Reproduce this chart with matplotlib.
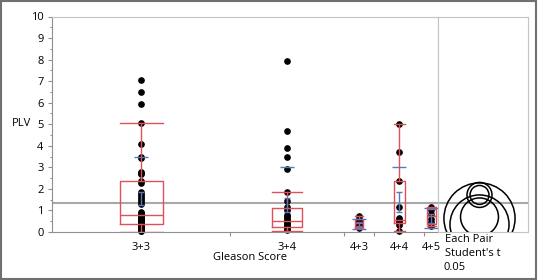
import numpy as np
import matplotlib
matplotlib.use("Agg")
import matplotlib.pyplot as plt
from matplotlib.patches import Circle, Rectangle

plt.rcParams['font.family'] = ['Open Sans', 'DejaVu Sans']
plt.rcParams['font.size'] = 8

# ---- data ----
groups = ["3+3", "3+4", "4+3", "4+4", "4+5"]

plv_33 = [7.05, 6.48, 5.95, 5.04, 4.08, 3.5, 3.45, 2.8, 2.72, 2.68, 2.37, 2.26,
          1.85, 1.78, 1.68, 1.6, 1.48, 1.4, 1.32, 0.92, 0.88, 0.84, 0.8, 0.75,
          0.7, 0.66, 0.62, 0.58, 0.55, 0.5, 0.45, 0.4, 0.38, 0.34, 0.3, 0.25,
          0.2, 0.15, 0.1, 0.06, 0.03]
plv_34 = [7.93, 4.69, 3.9, 3.5, 2.91, 1.87, 1.45, 1.17, 1.02, 0.8, 0.72, 0.65,
          0.58, 0.5, 0.42, 0.35, 0.3, 0.22, 0.15, 0.08]
plv_43 = [0.74, 0.62, 0.52, 0.42, 0.33, 0.25, 0.18]
plv_44 = [5.0, 3.7, 2.37, 1.17, 0.65, 0.58, 0.5, 0.42, 0.32, 0.06]
plv_45 = [1.15, 1.0, 0.82, 0.62, 0.45, 0.3]
points = [plv_33, plv_34, plv_43, plv_44, plv_45]

# quantile box stats
q1      = [0.36, 0.22, 0.22, 0.40, 0.35]
median  = [0.80, 0.53, 0.42, 0.56, 0.72]
q3      = [2.38, 1.10, 0.62, 2.37, 1.05]
whis_lo = [0.02, 0.06, 0.18, 0.06, 0.30]
whis_hi = [5.04, 1.87, 0.74, 5.00, 1.15]

# means, std errors, std devs
means = [1.56, 1.25, 0.37, 1.40, 0.64]
sems  = [0.31, 0.31, 0.09, 0.47, 0.20]
sds   = [1.91, 1.78, 0.22, 1.60, 0.47]

grand_mean = 1.33

# comparison circles: centre and radius (PLV units)
circle_mean   = [1.72, 1.72, 0.63, 0.35, 0.70]
circle_radius = [0.44, 0.58, 1.65, 1.37, 0.88]

# ---- layout (pixel-ish units along x) ----
W, H = 538, 280
group_span = [178, 114, 30, 50, 14]
box_w = [43, 30, 8, 11, 9]
edges = np.concatenate([[0], np.cumsum(group_span)])
centers = (edges[:-1] + edges[1:]) / 2

red = '#e0505a'
blue = '#5a78b8'
grid_gray = '#a8a8a8'
frame_gray = '#c4c4c4'

fig = plt.figure(figsize=(W / 100, H / 100), dpi=100)
ax = fig.add_axes([52 / W, 48 / H, 386 / W, 215.5 / H])
axc = fig.add_axes([438 / W, 48 / H, 90 / W, 215.5 / H])

# points
for c, vals in zip(centers, points):
    ax.plot(np.full(len(vals), c), vals, 'o', color='black', ms=3.8,
            mec='black', zorder=2, clip_on=False)

# boxes
stats = []
for i in range(len(groups)):
    stats.append(dict(med=median[i], q1=q1[i], q3=q3[i],
                      whislo=whis_lo[i], whishi=whis_hi[i], fliers=[]))
lp = dict(color=red, lw=1.0)
ax.bxp(stats, positions=centers, widths=box_w, capwidths=box_w,
       showfliers=False, boxprops=lp, whiskerprops=lp, capprops=lp,
       medianprops=lp, manage_ticks=False, zorder=3)

# std dev lines and mean error bars
for c, m, se, sd in zip(centers, means, sems, sds):
    ax.hlines([m + sd, m - sd], c - 7, c + 7, color=blue, lw=1.0, zorder=4)
    ax.errorbar(c, m, yerr=se, color=blue, lw=1.0, capsize=2.5, zorder=4)

ax.axhline(grand_mean, color=grid_gray, lw=1.5, zorder=1)

ax.set_xlim(0, edges[-1])
ax.set_ylim(0, 10)
ax.set_yticks(np.arange(0, 11, 1))
ax.set_yticks(np.arange(0.5, 10, 1), minor=True)
ax.set_xticks(edges[1:-1])
ax.set_xticklabels([])
ax.set_xticks(centers, minor=True)
ax.set_xticklabels(groups, minor=True)
ax.tick_params(axis='y', which='major', length=3, width=0.8, color='#909090', pad=3)
ax.tick_params(axis='y', which='minor', length=1.8, width=0.8, color='#909090')
ax.tick_params(axis='x', which='major', length=3, width=0.8, color='#909090')
ax.tick_params(axis='x', which='minor', length=0, pad=7)
for s in ax.spines.values():
    s.set_color(frame_gray)
ax.spines['left'].set_color('#909090')
ax.spines['bottom'].set_color('#909090')

# comparison circles panel
px_per_unit = 215.5 / 10
cw = 90 / px_per_unit
axc.set_xlim(0, cw)
axc.set_ylim(0, 10)
axc.axhline(grand_mean, color=grid_gray, lw=1.5, zorder=1)
xc = (479.5 - 438) / px_per_unit
for m, r in zip(circle_mean, circle_radius):
    axc.add_patch(Circle((xc, m), r, fill=False, ec='black', lw=1.1, zorder=3))
axc.set_xticks([])
axc.set_yticks([])
for s in axc.spines.values():
    s.set_color(frame_gray)

# labels
fig.text(12 / W, 1 - 124 / H, 'PLV', va='center', ha='left')
fig.text(213 / W, 1 - 258 / H, 'Gleason Score', va='center', ha='left')
fig.text(445 / W, 1 - 240 / H, 'Each Pair', va='center', ha='left')
fig.text(445 / W, 1 - 253 / H, "Student's t", va='center', ha='left')
fig.text(443 / W, 1 - 267 / H, '0.05', va='center', ha='left')

# outer border
fig.patches.append(Rectangle((0.002, 0.004), 0.994, 0.992, transform=fig.transFigure,
                             fill=False, ec='#707070', lw=1.5))

fig.savefig('out.png', dpi=100)
